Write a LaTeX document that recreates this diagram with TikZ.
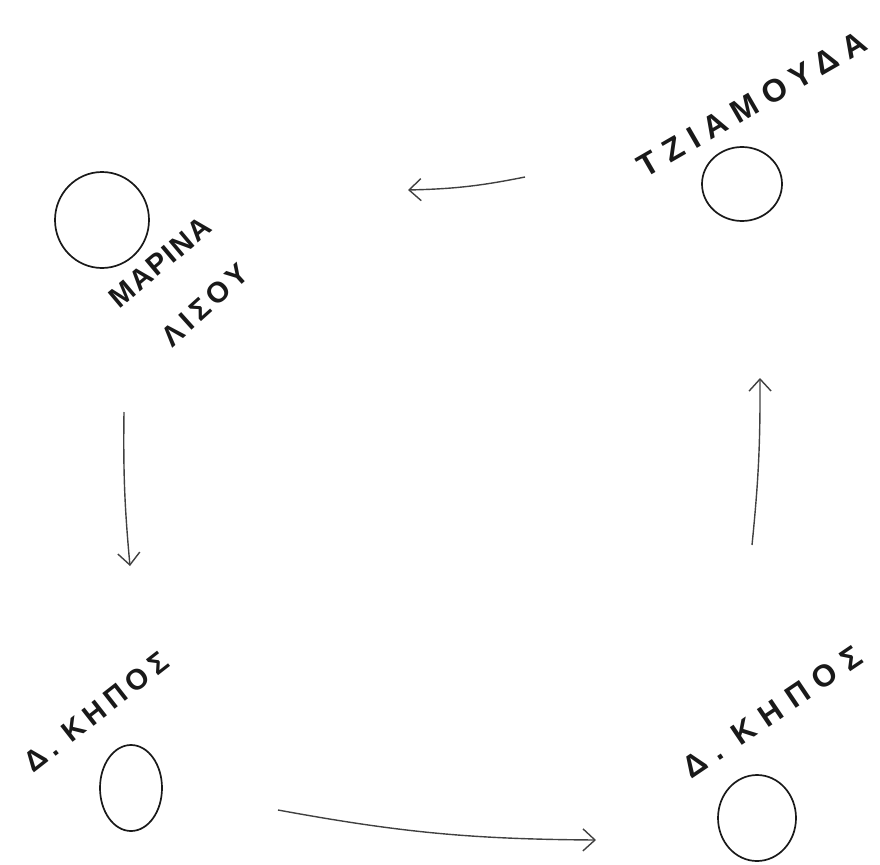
\documentclass[tikz,border=0pt]{standalone}
\usepackage{fontspec}
\newfontfamily\handfont{Liberation Sans}
\newcommand{\handat}[2]{\handfont\bfseries\addfontfeature{LetterSpace=#2}\fontsize{#1}{#1}\selectfont}
\usetikzlibrary{arrows,arrows.meta,shapes}
\tikzstyle{place}=[ellipse,draw=black!90,line width=1.7pt,inner sep=0pt]
\tikzstyle{lbl}=[text=black!90,inner sep=0pt]
\tikzstyle{route}=[-{Straight Barb[length=12pt,width=22pt]}, line width=1.4pt, draw=black!75]
\begin{document}
\begin{tikzpicture}[x=1pt,y=-1pt]
\useasboundingbox (0,0) rectangle (880,864);
\node[place,minimum width=94pt,minimum height=96pt] (M) at (102,220) {};
\node[place,minimum width=80pt,minimum height=74pt] (T) at (742,184) {};
\node[place,minimum width=62pt,minimum height=86pt] (K1) at (131,788) {};
\node[place,minimum width=78pt,minimum height=86pt] (K2) at (757,818) {};
\node[lbl,rotate=30,font=\handat{32}{28}] (Tl) at (752,104) {ΤΖΙΑΜΟΥΔΑ};
\node[lbl,rotate=40,font=\handat{29}{6}] (Ml) at (160,262) {ΜΑΡΙΝΑ};
\node[lbl,rotate=42,font=\handat{29}{18}] (Ll) at (205,305) {ΛΙΣΟΥ};
\node[lbl,rotate=38,font=\handat{29}{20}] (K1l) at (96,712) {Δ. ΚΗΠΟΣ};
\node[lbl,rotate=34,font=\handat{31}{32}] (K2l) at (772,712) {Δ. ΚΗΠΟΣ};
\coordinate (a1) at (525,177); \coordinate (a2) at (408,190);
\coordinate (b1) at (124,412); \coordinate (b2) at (130,566);
\coordinate (c1) at (278,810); \coordinate (c2) at (596,840);
\coordinate (d1) at (752,545); \coordinate (d2) at (760,378);
\draw[route](a1) to [bend left=5] (a2);
\draw[route](b1) to [bend right=3] (b2);
\draw[route](c1) to [bend right=5] (c2);
\draw[route](d1) to [bend right=3] (d2);
\end{tikzpicture}
\end{document}
